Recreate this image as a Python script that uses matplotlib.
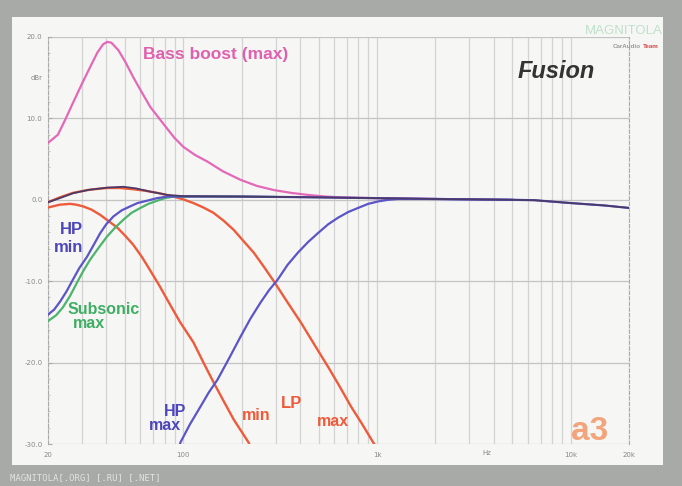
import numpy as np
import matplotlib
matplotlib.use("Agg")
from matplotlib import pyplot as plt
from matplotlib.patches import Rectangle

# frequency response curves (Hz, dB)
bass_f = [20, 21, 22.5, 24.5, 26.9, 30, 33, 36, 38.5, 40.4, 42.5, 46.1, 50, 55, 61, 67.5, 75, 82.7,
          90, 100, 115, 133, 160, 197.5, 240, 293, 360, 440, 540, 652, 1000, 2000]
bass_db = [7.0, 7.4, 8.0, 9.8, 11.9, 14.3, 16.3, 18.1, 19.1, 19.4, 19.3, 18.4, 17.0, 15.1, 13.2, 11.4,
           10.0, 8.7, 7.6, 6.5, 5.5, 4.7, 3.5, 2.45, 1.7, 1.2, 0.85, 0.6, 0.4, 0.3, 0.2, 0.1]

flat_f = [20, 23, 26.9, 32, 40.4, 49, 57, 67.5, 75, 82.7, 100, 200, 500, 1000, 2000, 5000, 6500,
          10000, 15000, 20000]
flat_db = [-0.3, 0.2, 0.8, 1.2, 1.5, 1.6, 1.4, 1.0, 0.8, 0.6, 0.45, 0.4, 0.3, 0.2, 0.1, 0.0, -0.05,
           -0.4, -0.7, -1.0]

lp_max_f = [20, 23, 26.9, 33, 40.4, 47, 55, 64, 73.5, 88.9, 100, 112.6, 127, 143, 162, 182, 205,
            231, 260, 293, 345, 405, 475, 558, 640, 734, 840, 955, 1030]
lp_max_db = [-0.3, 0.3, 0.85, 1.25, 1.45, 1.45, 1.3, 1.1, 0.85, 0.4, 0.05, -0.4, -0.95, -1.6, -2.6,
             -3.7, -5.1, -6.5, -8.2, -10.0, -12.6, -15.1, -17.8, -20.5, -22.9, -25.4, -27.6, -29.8, -31.0]

lp_min_f = [20, 23, 26, 28, 30.3, 33.5, 37.2, 41, 45.5, 50, 55, 61, 67.5, 75, 82.7, 96, 112.6, 127,
            143, 162, 182, 217, 235]
lp_min_db = [-0.95, -0.6, -0.5, -0.6, -0.8, -1.2, -1.85, -2.6, -3.4, -4.4, -5.5, -7.0, -8.7, -10.5,
             -12.3, -15.0, -17.5, -20.0, -22.4, -24.8, -27.0, -29.8, -31.5]

hp_min_f = [20, 21.5, 23.1, 25, 26.9, 29, 31.8, 34.5, 37.2, 40, 43.5, 48, 53.2, 58, 65.2, 73, 82.7,
            200, 500, 1000, 2000, 5000, 6500, 10000, 15000, 20000]
hp_min_db = [-14.1, -13.5, -12.5, -11.2, -9.8, -8.4, -7.0, -5.5, -4.1, -3.0, -2.05, -1.3, -0.8, -0.4,
             -0.1, 0.2, 0.4, 0.4, 0.3, 0.2, 0.1, 0.0, -0.05, -0.4, -0.7, -1.0]

sub_f = [20, 22, 23.9, 26, 28.2, 30.5, 33, 36.5, 40.4, 44.5, 49, 54, 60, 66, 73.5, 80, 89, 150, 300]
sub_db = [-14.9, -14.2, -13.2, -11.8, -10.2, -8.7, -7.35, -5.9, -4.5, -3.4, -2.45, -1.6, -1.0, -0.5,
          -0.1, 0.2, 0.4, 0.4, 0.35]

hp_max_f = [93, 96.6, 108, 122.6, 135, 150, 172, 197.5, 222, 250.6, 277, 307, 345, 390, 440, 495,
            560, 629, 710, 798, 900, 1014, 1140, 1286, 2000, 5000]
hp_max_db = [-31.0, -29.8, -27.6, -25.4, -23.7, -22.1, -19.5, -16.8, -14.6, -12.6, -11.1, -9.8, -8.0,
             -6.5, -5.2, -4.1, -3.0, -2.2, -1.5, -1.0, -0.5, -0.2, 0.0, 0.1, 0.1, 0.0]

x_ticks = [20, 100, 1000, 10000, 20000]
x_labels = ["20", "100", "1k", "10k", "20k"]
y_ticks = [20, 10, 0, -10, -20, -30]
y_labels = ["20.0", "10.0", "0.0", "-10.0", "-20.0", "-30.0"]

W, H = 682, 486
fig = plt.figure(figsize=(W / 100, H / 100), dpi=100, facecolor="#a8aaa7")

def px(x, y):
    return x / W, 1 - y / H

# white card behind the plot
fig.patches.append(Rectangle(px(12, 465), 651 / W, 448 / H, transform=fig.transFigure,
                             facecolor="#f6f6f4", edgecolor="none", zorder=-10))

ax = fig.add_axes([48 / W, 1 - 444 / H, 581 / W, 407 / H])
ax.set_facecolor("none")
ax.set_xscale("log")
ax.set_xlim(20, 20000)
ax.set_ylim(-30, 20)

minor = [f * d for d in (10, 100, 1000) for f in range(2, 10)]
ax.set_xticks(x_ticks)
ax.set_xticklabels(x_labels)
ax.set_xticks([m for m in minor if 20 < m < 20000], minor=True)
ax.set_yticks(y_ticks)
ax.set_yticklabels(y_labels)
ax.set_yticks(np.arange(-30, 21, 2), minor=True)
ax.tick_params(axis="x", which="both", length=0, labelsize=5, labelcolor="#888888", pad=6)
ax.tick_params(axis="y", which="major", length=3, direction="in", color="#aaaaaa",
               labelsize=5, labelcolor="#888888", pad=4)
ax.tick_params(axis="y", which="minor", length=1.5, direction="in", color="#bbbbbb")
ax.xaxis.set_minor_formatter(plt.NullFormatter())
ax.grid(True, which="both", axis="x", color="#d3d3d3", lw=0.9)
ax.grid(True, which="major", axis="y", color="#c4c4c4", lw=0.9)
for s in ("top", "bottom"):
    ax.spines[s].set_visible(False)
for s in ("left", "right"):
    ax.spines[s].set_linestyle((0, (3, 2)))
    ax.spines[s].set_color("#aaaaaa")
    ax.spines[s].set_linewidth(0.8)

ax.plot(bass_f, bass_db, color="#e468b8", lw=1.6, zorder=3)
ax.plot(lp_max_f, lp_max_db, color="#ee5a3a", lw=1.7, zorder=3)
ax.plot(lp_min_f, lp_min_db, color="#ee5a3a", lw=1.7, zorder=3)
ax.plot(sub_f, sub_db, color="#4cb46c", lw=1.6, zorder=3)
ax.plot(hp_min_f, hp_min_db, color="#5b55c8", lw=1.6, zorder=4)
ax.plot(hp_max_f, hp_max_db, color="#5b55c8", lw=1.6, zorder=4)
ax.plot(flat_f, flat_db, color="#4a3a68", lw=1.3, zorder=5)

# labels
bold = dict(family="Liberation Sans", weight="bold")
fig.text(*px(143, 55), "Bass boost (max)", color="#e060b0", fontsize=12.5, va="center", **bold)
fig.text(*px(518, 72), "Fusion", color="#333333", fontsize=17, style="italic", va="center", **bold)
fig.text(*px(83, 230), "HP", color="#4c46b8", fontsize=12, ha="right", va="center", **bold)
fig.text(*px(83, 247), "min", color="#4c46b8", fontsize=12, ha="right", va="center", **bold)
fig.text(*px(68, 310), "Subsonic", color="#3fae64", fontsize=11.5, va="center", **bold)
fig.text(*px(73, 324), "max", color="#3fae64", fontsize=11.5, va="center", **bold)
fig.text(*px(186, 411), "HP", color="#4c46b8", fontsize=11.5, ha="right", va="center", **bold)
fig.text(*px(181, 425), "max", color="#4c46b8", fontsize=11.5, ha="right", va="center", **bold)
fig.text(*px(256, 415), "min", color="#ee5a3a", fontsize=11.5, ha="center", va="center", **bold)
fig.text(*px(292, 403), "LP", color="#ee5a3a", fontsize=12, ha="center", va="center", **bold)
fig.text(*px(333, 421), "max", color="#ee5a3a", fontsize=11.5, ha="center", va="center", **bold)
fig.text(*px(590, 432), "a3", color="#f2a47c", fontsize=24, ha="center", va="center", **bold)
fig.text(*px(487, 453), "Hz", color="#888888", fontsize=5, ha="center", va="center")
fig.text(*px(43, 78), "dBr", color="#888888", fontsize=5, ha="right", va="center")

# watermarks
fig.text(*px(624, 31), "MAGNITOLA", color="#bfe0cb", fontsize=9.5, ha="center", va="center",
         family="Liberation Sans")
fig.text(*px(641, 46), "CarAudio", color="#9a9a9a", fontsize=4.5, ha="right", va="center", **bold)
fig.text(*px(643, 46), "Team", color="#d04545", fontsize=4.5, ha="left", va="center", **bold)
fig.text(*px(10, 478), "MAGNITOLA[.ORG] [.RU] [.NET]", color="#e2e2e2", fontsize=6.5,
         va="center", family="DejaVu Sans Mono")

fig.savefig("out.png", dpi=100, facecolor=fig.get_facecolor())
